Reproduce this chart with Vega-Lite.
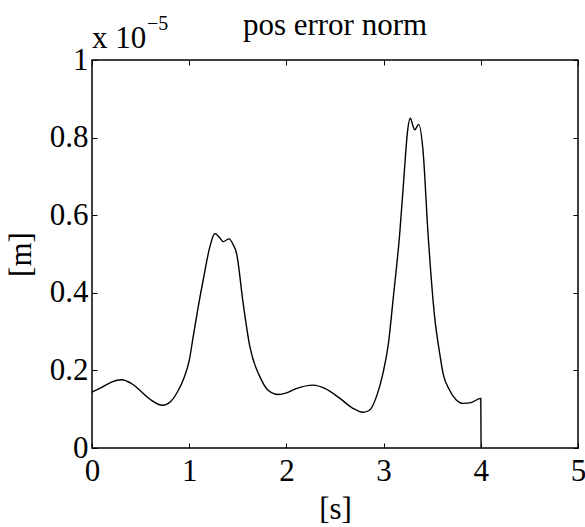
{
  "$schema": "https://vega.github.io/schema/vega-lite/v6.json",
  "autosize": {"type": "none"},
  "width": 486,
  "height": 388,
  "padding": {"left": 92, "top": 60, "right": 7, "bottom": 79},
  "background": "white",
  "config": {
    "font": "Liberation Serif",
    "view": {"stroke": "black", "strokeWidth": 1.5},
    "axis": {"grid": false, "domain": false, "labelFlush": false, "labelOverlap": false, "tickColor": "black", "tickWidth": 1, "tickSize": -5, "labelColor": "black", "titleColor": "black", "labelFont": "Liberation Serif", "titleFont": "Liberation Serif", "labelFontSize": 31, "titleFontSize": 31, "titleFontWeight": "normal"}
  },
  "datasets": {
    "one": [{"k": 1}],
    "err": [
    {"t": 0, "e": 0.144},
    {"t": 0.1, "e": 0.156},
    {"t": 0.2, "e": 0.170},
    {"t": 0.305, "e": 0.176},
    {"t": 0.4, "e": 0.167},
    {"t": 0.5, "e": 0.147},
    {"t": 0.6, "e": 0.125},
    {"t": 0.725, "e": 0.110},
    {"t": 0.81, "e": 0.120},
    {"t": 0.88, "e": 0.145},
    {"t": 0.945, "e": 0.180},
    {"t": 1.0, "e": 0.225},
    {"t": 1.041, "e": 0.287},
    {"t": 1.09, "e": 0.36},
    {"t": 1.144, "e": 0.433},
    {"t": 1.213, "e": 0.519},
    {"t": 1.264, "e": 0.553},
    {"t": 1.31, "e": 0.543},
    {"t": 1.35, "e": 0.532},
    {"t": 1.411, "e": 0.539},
    {"t": 1.45, "e": 0.525},
    {"t": 1.487, "e": 0.502},
    {"t": 1.555, "e": 0.373},
    {"t": 1.624, "e": 0.261},
    {"t": 1.727, "e": 0.184},
    {"t": 1.812, "e": 0.149},
    {"t": 1.915, "e": 0.138},
    {"t": 2.0, "e": 0.142},
    {"t": 2.1, "e": 0.153},
    {"t": 2.275, "e": 0.162},
    {"t": 2.4, "e": 0.153},
    {"t": 2.55, "e": 0.128},
    {"t": 2.68, "e": 0.103},
    {"t": 2.788, "e": 0.092},
    {"t": 2.857, "e": 0.098},
    {"t": 2.93, "e": 0.135},
    {"t": 2.994, "e": 0.193},
    {"t": 3.05, "e": 0.27},
    {"t": 3.097, "e": 0.381},
    {"t": 3.166, "e": 0.553},
    {"t": 3.217, "e": 0.725},
    {"t": 3.244, "e": 0.811},
    {"t": 3.275, "e": 0.850},
    {"t": 3.3, "e": 0.832},
    {"t": 3.32, "e": 0.820},
    {"t": 3.361, "e": 0.834},
    {"t": 3.405, "e": 0.768},
    {"t": 3.457, "e": 0.553},
    {"t": 3.525, "e": 0.338},
    {"t": 3.577, "e": 0.244},
    {"t": 3.611, "e": 0.193},
    {"t": 3.679, "e": 0.149},
    {"t": 3.748, "e": 0.124},
    {"t": 3.816, "e": 0.115},
    {"t": 3.9, "e": 0.117},
    {"t": 4.0, "e": 0.128},
    {"t": 4.003, "e": 0.0}
  ]},
  "resolve": {"axis": {"x": "independent", "y": "independent"}},
  "layer": [
    {
      "data": {"name": "err"},
      "mark": {"type": "line", "color": "black", "strokeWidth": 1.4, "interpolate": "monotone", "clip": true},
      "encoding": {
        "x": {"field": "t", "type": "quantitative", "scale": {"domain": [0, 5], "nice": false, "zero": false}, "axis": {"orient": "bottom", "title": "[s]", "values": [0, 1, 2, 3, 4, 5], "format": "~g", "labelPadding": 13, "titlePadding": 8}},
        "y": {"field": "e", "type": "quantitative", "scale": {"domain": [0, 1], "nice": false}, "axis": {"orient": "left", "title": "[m]", "values": [0, 0.2, 0.4, 0.6, 0.8, 1], "format": "~g", "labelPadding": 9, "titlePadding": 12}}
      }
    },
    {
      "data": {"name": "one"},
      "mark": {"type": "text", "align": "left", "baseline": "alphabetic", "fontSize": 31, "font": "Liberation Serif", "color": "black", "dy": -12},
      "encoding": {
        "x": {"datum": 0, "type": "quantitative", "axis": {"orient": "top", "labels": false, "title": null, "values": [0, 1, 2, 3, 4, 5]}},
        "y": {"datum": 1, "type": "quantitative", "axis": {"orient": "right", "labels": false, "title": null, "values": [0, 0.2, 0.4, 0.6, 0.8, 1]}},
        "text": {"value": "x 10"}
      }
    },
    {
      "data": {"name": "one"},
      "mark": {"type": "text", "align": "left", "baseline": "alphabetic", "fontSize": 20, "font": "Liberation Serif", "color": "black", "dx": 55, "dy": -30},
      "encoding": {
        "x": {"datum": 0, "type": "quantitative", "axis": null},
        "y": {"datum": 1, "type": "quantitative", "axis": null},
        "text": {"value": "−5"}
      }
    },
    {
      "data": {"name": "one"},
      "mark": {"type": "text", "align": "center", "baseline": "alphabetic", "fontSize": 31, "font": "Liberation Serif", "color": "black", "dy": -25},
      "encoding": {
        "x": {"datum": 2.5, "type": "quantitative", "axis": null},
        "y": {"datum": 1, "type": "quantitative", "axis": null},
        "text": {"value": "pos error norm"}
      }
    }
  ]
}
